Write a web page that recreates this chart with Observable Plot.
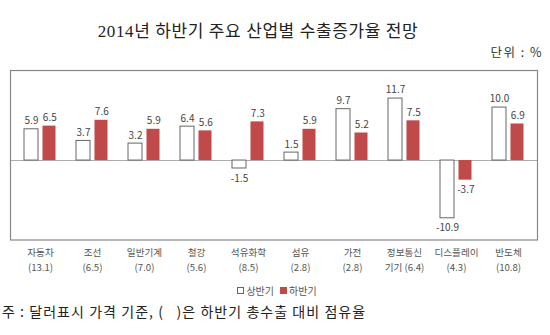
<!DOCTYPE html>
<html>
<head>
<meta charset="utf-8">
<script src="https://cdn.jsdelivr.net/npm/d3@7"></script>
<script src="https://cdn.jsdelivr.net/npm/@observablehq/plot@0.6"></script>
<style>
  html, body { margin: 0; padding: 0; background: #fff; }
  body { width: 550px; height: 335px; overflow: hidden; font-family: "Noto Sans CJK KR", "Noto Sans", sans-serif; }
  #header { position: relative; height: 62px; }
  #title { position: absolute; left: 0; width: 516px; top: 22px; text-align: center; font-family: "Liberation Serif", "Noto Sans CJK KR", serif; font-size: 17px; letter-spacing: 0.6px; line-height: 20px; color: #222; }
  #unit { position: absolute; right: 7px; top: 44px; font-size: 12.5px; letter-spacing: 1.5px; line-height: 16px; color: #333; white-space: pre; }
  #legend { height: 24px; display: flex; justify-content: center; align-items: center; font-size: 10px; color: #555; padding-left: 4px; }
  #legend .sw { display: inline-block; width: 7px; height: 7px; margin-right: 2px; box-sizing: border-box; }
  #note { padding-left: 2px; font-size: 14px; letter-spacing: 1.05px; line-height: 18px; color: #222; white-space: pre; }
</style>
</head>
<body>
<div id="header">
  <div id="title">2014년 하반기 주요 산업별 수출증가율 전망</div>
  <div id="unit">단위 : %</div>
</div>
<div id="chart"></div>
<div id="legend"></div>
<div id="note">주 : 달러표시 가격 기준, (   )은 하반기 총수출 대비 점유율</div>
<script>
const categories = ["자동차", "조선", "일반기계", "철강", "석유화학", "섬유", "가전", "정보통신", "디스플레이", "반도체"];
const subLabels = ["(13.1)", "(6.5)", "(7.0)", "(5.6)", "(8.5)", "(2.8)", "(2.8)", "기기 (6.4)", "(4.3)", "(10.8)"];
const firstHalf = [5.9, 3.7, 3.2, 6.4, -1.5, 1.5, 9.7, 11.7, -10.9, 10.0];
const secondHalf = [6.5, 7.6, 5.9, 5.6, 7.3, 5.9, 5.2, 7.5, -3.7, 6.9];
const seriesNames = ["상반기", "하반기"];

const redColor = "#c0494a";
const fmt = v => v.toFixed(1);

const rows1 = categories.map((c, i) => ({cat: c, v: firstHalf[i]}));
const rows2 = categories.map((c, i) => ({cat: c, v: secondHalf[i]}));
const subOf = new Map(categories.map((c, i) => [c, subLabels[i]]));

const textOpts = {fontSize: 10, fill: "#444", lineAnchor: "middle"};

const chart = Plot.plot({
  width: 550,
  height: 216,
  marginTop: 8,
  marginBottom: 38.5,
  marginLeft: 10,
  marginRight: 13,
  style: {fontFamily: "'Noto Sans CJK KR', 'Noto Sans', sans-serif", background: "#fff"},
  x: {type: "band", domain: categories, padding: 0, label: null},
  y: {domain: [-15, 17], axis: null},
  marks: [
    Plot.ruleY([0], {stroke: "#aaa", strokeWidth: 1}),
    Plot.barY(rows1, {x: "cat", y: "v", fill: "#fff", stroke: "#666", strokeWidth: 1, insetLeft: 10, insetRight: 28}),
    Plot.barY(rows2, {x: "cat", y: "v", fill: redColor, insetLeft: 28.5, insetRight: 10.5}),
    Plot.text(rows1.filter(d => d.v >= 0), {x: "cat", y: "v", text: d => fmt(d.v), dx: -9, dy: -8.3, ...textOpts}),
    Plot.text(rows1.filter(d => d.v < 0), {x: "cat", y: "v", text: d => fmt(d.v), dx: -9, dy: 10, ...textOpts}),
    Plot.text(rows2.filter(d => d.v >= 0), {x: "cat", y: "v", text: d => fmt(d.v), dx: 9.3, dy: -8.3, ...textOpts}),
    Plot.text(rows2.filter(d => d.v < 0), {x: "cat", y: "v", text: d => fmt(d.v), dx: 9.3, dy: 10, ...textOpts}),
    Plot.frame({stroke: "#888", strokeWidth: 1.2}),
    Plot.axisX({tickSize: 0, tickPadding: 9.5, fontSize: 9.6, fill: "#555", letterSpacing: 0.5, label: null}),
    Plot.axisX({tickSize: 0, tickPadding: 24, fontSize: 9.6, fill: "#555", tickFormat: d => subOf.get(d), label: null})
  ]
});
document.getElementById("chart").appendChild(chart);

const legend = document.getElementById("legend");
seriesNames.forEach((name, i) => {
  const item = document.createElement("span");
  item.style.marginRight = i === 0 ? "6px" : "0";
  item.style.display = "inline-flex";
  item.style.alignItems = "center";
  const sw = document.createElement("span");
  sw.className = "sw";
  if (i === 0) { sw.style.border = "1px solid #666"; sw.style.background = "#fff"; }
  else { sw.style.background = redColor; }
  item.appendChild(sw);
  item.appendChild(document.createTextNode(name));
  legend.appendChild(item);
});
</script>
</body>
</html>
